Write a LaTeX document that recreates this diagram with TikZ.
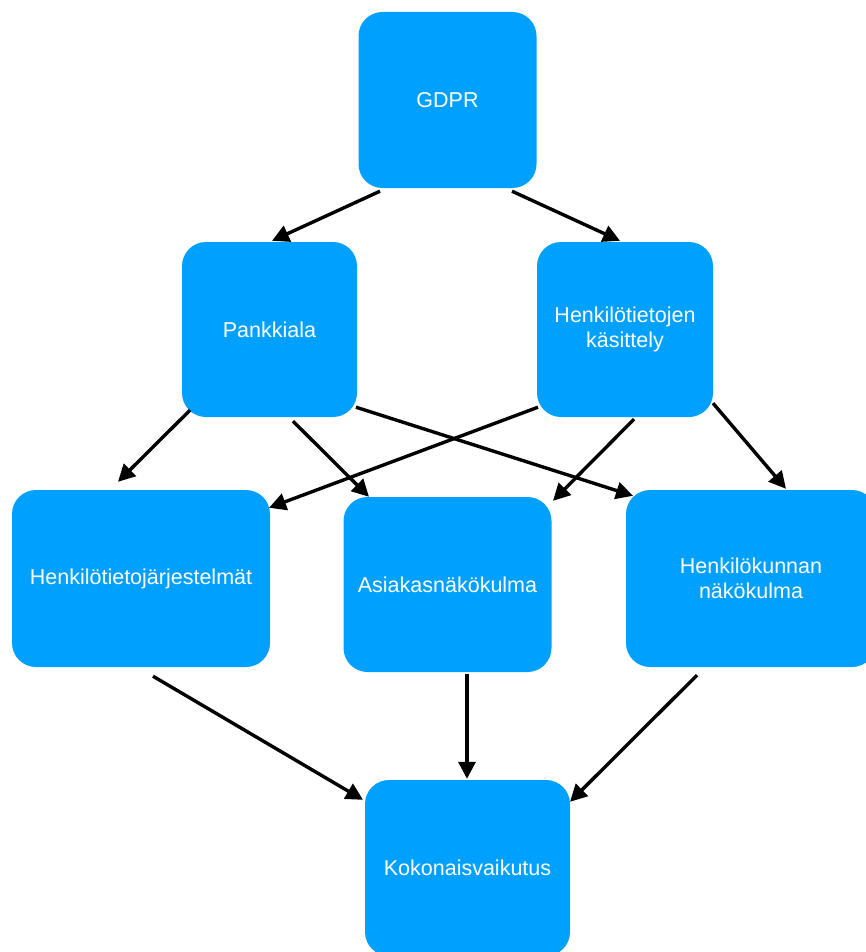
\documentclass[tikz,border=0pt]{standalone}
\usepackage{fontspec}
\setmainfont{Liberation Sans}
\usetikzlibrary{arrows.meta}
\definecolor{boxblue}{RGB}{0,160,255}
\tikzset{
  box/.style={fill=boxblue, draw=none, rounded corners=24pt, text=white,
    align=center, font=\fontsize{21.5pt}{25pt}\selectfont, inner sep=0pt},
  conn/.style={line width=3.4pt, -{Triangle[length=17pt,width=17pt]}}
}
\begin{document}
\begin{tikzpicture}[x=1pt,y=-1pt]
\useasboundingbox (0,0) rectangle (866,952);
\node[box, minimum width=178pt, minimum height=176pt] (gdpr) at (447.5,100) {GDPR};
\node[box, minimum width=175pt, minimum height=175pt] (pank) at (269.5,329.5) {Pankkiala};
\node[box, minimum width=176pt, minimum height=175pt] (henk) at (625,329.5) {Henkilötietojen\\käsittely};
\node[box, minimum width=258pt, minimum height=177pt] (htj) at (141,578.5) {Henkilötietojärjestelmät};
\node[box, minimum width=208pt, minimum height=175pt] (asia) at (447.5,584.5) {Asiakasnäkökulma};
\node[box, minimum width=250pt, minimum height=177pt] (hkn) at (751,578.5) {Henkilökunnan\\näkökulma};
\node[box, minimum width=205pt, minimum height=176pt] (koko) at (467.5,868) {Kokonaisvaikutus};

\draw[conn] ([shift={(-67.5,3)}]gdpr.south) -- ([shift={(2.5,-1)}]pank.north);
\draw[conn] ([shift={(64.5,3)}]gdpr.south) -- ([shift={(-5,-1)}]henk.north);
\draw[conn] ([shift={(-79.5,-7)}]pank.south) -- ([shift={(-23,-8)}]htj.north);
\draw[conn] ([shift={(23.5,4)}]pank.south) -- ([shift={(-78.5,0)}]asia.north);
\draw[conn] ([shift={(86.5,-10)}]pank.south) -- ([shift={(-118,6)}]hkn.north);
\draw[conn] ([shift={(-87,-10)}]henk.south) -- ([shift={(128,18)}]htj.north);
\draw[conn] ([shift={(9,2)}]henk.south) -- ([shift={(105.5,4)}]asia.north);
\draw[conn] ([shift={(88,-14)}]henk.south) -- ([shift={(35,-1)}]hkn.north);
\draw[conn] ([shift={(12,9)}]htj.south) -- ([shift={(-104.5,20)}]koko.north);
\draw[conn] ([shift={(19.5,2)}]asia.south) -- ([shift={(-0.5,-1)}]koko.north);
\draw[conn] ([shift={(-54,8)}]hkn.south) -- ([shift={(102.5,22)}]koko.north);
\end{tikzpicture}
\end{document}
